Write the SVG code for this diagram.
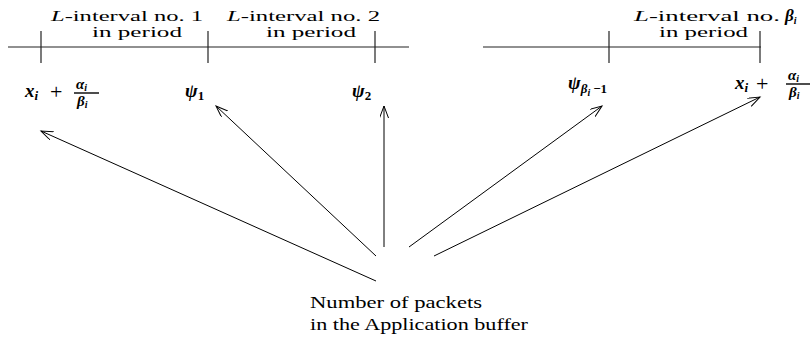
<svg xmlns="http://www.w3.org/2000/svg" width="810" height="350" viewBox="0 0 810 350">
<style>
.t{font-family:"Liberation Serif","DejaVu Serif",serif;font-size:17px;fill:#000}
.h{font-family:"Liberation Serif","DejaVu Serif",serif;font-size:15px;fill:#000}
.m{font-family:"Liberation Serif","DejaVu Serif",serif;font-size:19px;font-style:italic;font-weight:bold;fill:#000}
.f{font-family:"Liberation Serif","DejaVu Serif",serif;font-size:15px;font-style:italic;font-weight:bold;fill:#000}
.p{font-family:"Liberation Serif","DejaVu Serif",serif;font-size:22px;fill:#000}
.s{font-size:13px}
.ss{font-size:10px}
.ax{stroke:#222;stroke-width:1.2;fill:none}
.c{stroke:#000;stroke-width:1;fill:none}
</style>
<defs>
<marker id="ah" markerUnits="userSpaceOnUse" markerWidth="14" markerHeight="10" refX="12" refY="4.5" orient="auto">
<path d="M0,0 L12,4.5 L0,9" fill="none" stroke="#000" stroke-width="1"/>
</marker>
</defs>

<g id="axis">
<line class="ax" x1="8" y1="47" x2="409" y2="47"/>
<line class="ax" x1="483" y1="47" x2="761" y2="47"/>
<line class="ax" x1="41" y1="31" x2="41" y2="63"/>
<line class="ax" x1="208" y1="31" x2="208" y2="63"/>
<line class="ax" x1="375" y1="31" x2="375" y2="63"/>
<line class="ax" x1="609" y1="31" x2="609" y2="63"/>
<line class="ax" x1="760" y1="31" x2="760" y2="63"/>
</g>

<g id="interval1">
<text class="h" x="51" y="21" textLength="152" lengthAdjust="spacingAndGlyphs"><tspan font-style="italic">L</tspan>-interval no. 1</text>
<text class="h" x="92" y="37" textLength="90" lengthAdjust="spacingAndGlyphs">in period</text>
</g>
<g id="interval2">
<text class="h" x="227" y="21" textLength="153" lengthAdjust="spacingAndGlyphs"><tspan font-style="italic">L</tspan>-interval no. 2</text>
<text class="h" x="266" y="37" textLength="90" lengthAdjust="spacingAndGlyphs">in period</text>
</g>
<g id="intervalB">
<text class="h" x="634" y="21" textLength="146" lengthAdjust="spacingAndGlyphs"><tspan font-style="italic">L</tspan>-interval no.</text>
<text class="f" x="785" y="21" style="font-size:17px">β<tspan class="ss" dy="3">i</tspan></text>
<text class="h" x="659" y="37" textLength="89" lengthAdjust="spacingAndGlyphs">in period</text>
</g>

<g id="label-start">
<text class="m" x="25" y="97">x<tspan class="s" dy="3">i</tspan></text>
<text class="p" x="50" y="99">+</text>
<text class="f" x="76" y="89">α<tspan class="ss" dy="2">i</tspan></text>
<line x1="74" y1="93" x2="99" y2="93" stroke="#000" stroke-width="1.4"/>
<text class="f" x="77" y="106">β<tspan class="ss" dy="2">i</tspan></text>
</g>

<g id="label-psi1">
<text class="m" x="185" y="97">ψ<tspan class="s" font-style="normal" dy="3">1</tspan></text>
</g>
<g id="label-psi2">
<text class="m" x="352" y="97">ψ<tspan class="s" font-style="normal" dy="3">2</tspan></text>
</g>
<g id="label-psiB">
<text class="m" x="568" y="89">ψ<tspan class="s" dy="4">β</tspan><tspan class="ss" dy="3">i</tspan><tspan class="s" font-style="normal" dy="-3" dx="3">−1</tspan></text>
</g>

<g id="label-end">
<text class="m" x="735" y="89">x<tspan class="s" dy="3">i</tspan></text>
<text class="p" x="756" y="91">+</text>
<text class="f" x="788" y="80">α<tspan class="ss" dy="2">i</tspan></text>
<line x1="786" y1="84" x2="810" y2="84" stroke="#000" stroke-width="1.4"/>
<text class="f" x="789" y="97">β<tspan class="ss" dy="2">i</tspan></text>
</g>

<g id="source">
<text class="t" x="310" y="308" textLength="172" lengthAdjust="spacingAndGlyphs">Number of packets</text>
<text class="t" x="310" y="330" textLength="218" lengthAdjust="spacingAndGlyphs">in the Application buffer</text>
</g>

<g id="connectors">
<line class="c" x1="376" y1="281" x2="41" y2="131" marker-end="url(#ah)"/>
<line class="c" x1="376" y1="256" x2="216" y2="106" marker-end="url(#ah)"/>
<line class="c" x1="384" y1="247" x2="384" y2="106" marker-end="url(#ah)"/>
<line class="c" x1="409" y1="247" x2="602" y2="106" marker-end="url(#ah)"/>
<line class="c" x1="434" y1="256" x2="760" y2="97" marker-end="url(#ah)"/>
</g>
</svg>
